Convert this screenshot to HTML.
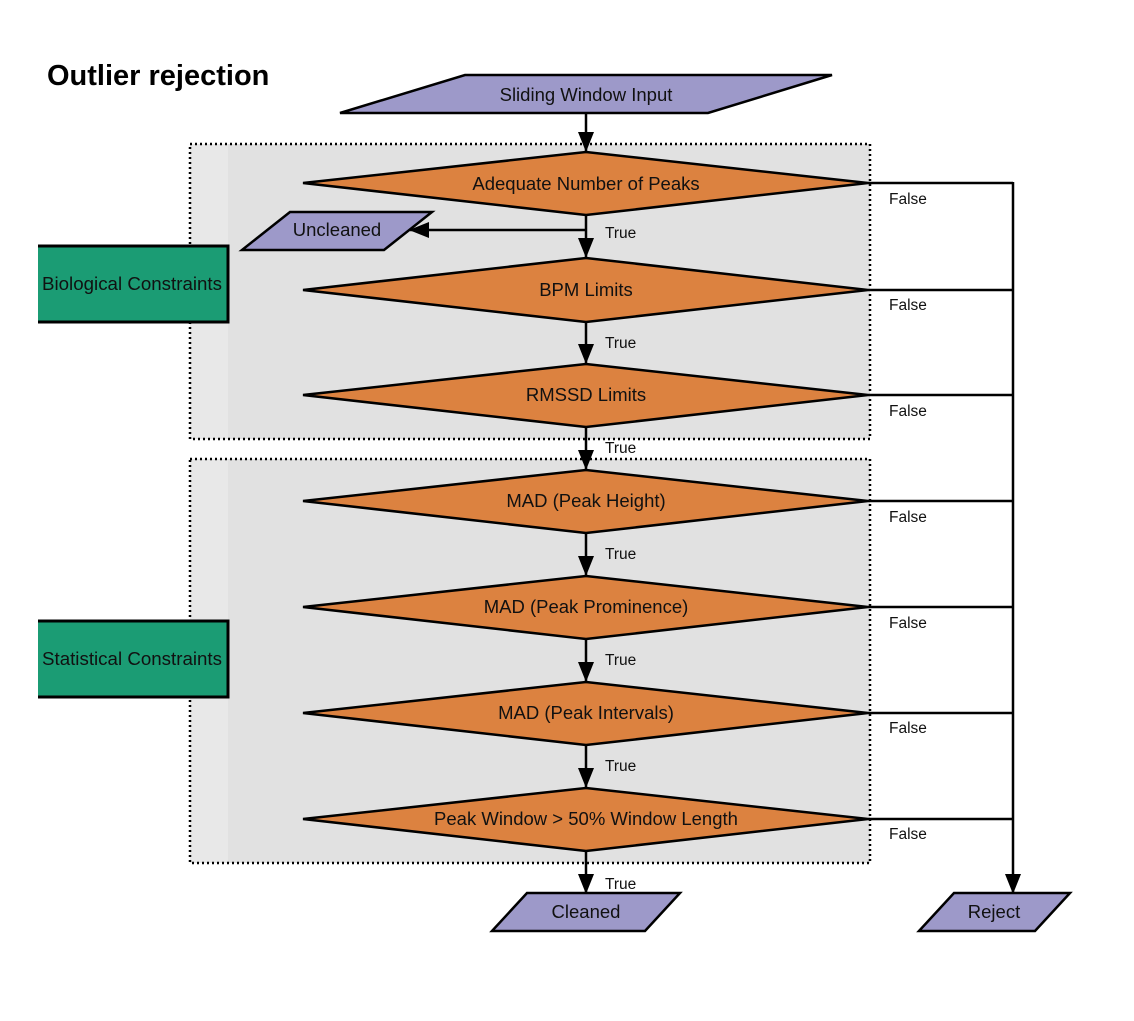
<!DOCTYPE html>
<html><head><meta charset="utf-8"><style>
html,body{margin:0;padding:0;background:#fff;}
svg{display:block;font-family:"Liberation Sans",Arial,sans-serif;}
</style></head><body>
<svg width="1134" height="1021" viewBox="0 0 1134 1021" xmlns="http://www.w3.org/2000/svg">
<defs>
<marker id="ah" markerWidth="20" markerHeight="18" refX="19" refY="9" orient="auto" markerUnits="userSpaceOnUse">
<path d="M0,1 L20,9 L0,17 Z" fill="#000"/>
</marker>
</defs>
<text x="47" y="85" font-size="29" font-weight="bold" fill="#000">Outlier rejection</text>

<rect x="190" y="144" width="680" height="295" fill="#e1e1e1"/>
<rect x="190" y="144" width="38" height="295" fill="#e8e8e8"/>
<rect x="190" y="144" width="680" height="295" fill="none" stroke="#000" stroke-width="2.5" stroke-dasharray="2,3"/>
<rect x="190" y="459" width="680" height="404" fill="#e1e1e1"/>
<rect x="190" y="459" width="38" height="404" fill="#e8e8e8"/>
<rect x="190" y="459" width="680" height="404" fill="none" stroke="#000" stroke-width="2.5" stroke-dasharray="2,3"/>

<rect x="38" y="246" width="190" height="76" fill="#1b9c74"/>
<path d="M38,246 H228 V322 H38" fill="none" stroke="#000" stroke-width="3"/>
<text x="132" y="290" font-size="18.5" text-anchor="middle" fill="#111" textLength="180" lengthAdjust="spacingAndGlyphs">Biological Constraints</text>
<rect x="38" y="621" width="190" height="76" fill="#1b9c74"/>
<path d="M38,621 H228 V697 H38" fill="none" stroke="#000" stroke-width="3"/>
<text x="132" y="665" font-size="18.5" text-anchor="middle" fill="#111" textLength="180" lengthAdjust="spacingAndGlyphs">Statistical Constraints</text>

<g stroke="#000" stroke-width="2.5" fill="none">
<line x1="586" y1="113" x2="586" y2="151" marker-end="url(#ah)"/>
<line x1="586" y1="215" x2="586" y2="257" marker-end="url(#ah)"/>
<line x1="586" y1="230" x2="410" y2="230" marker-end="url(#ah)"/>
<line x1="586" y1="322" x2="586" y2="363" marker-end="url(#ah)"/>
<line x1="586" y1="427" x2="586" y2="469" marker-end="url(#ah)"/>
<line x1="586" y1="533" x2="586" y2="575" marker-end="url(#ah)"/>
<line x1="586" y1="639" x2="586" y2="681" marker-end="url(#ah)"/>
<line x1="586" y1="745" x2="586" y2="787" marker-end="url(#ah)"/>
<line x1="586" y1="851" x2="586" y2="893" marker-end="url(#ah)"/>
<line x1="868" y1="183" x2="1013" y2="183"/>
<line x1="868" y1="290" x2="1013" y2="290"/>
<line x1="868" y1="395" x2="1013" y2="395"/>
<line x1="868" y1="501" x2="1013" y2="501"/>
<line x1="868" y1="607" x2="1013" y2="607"/>
<line x1="868" y1="713" x2="1013" y2="713"/>
<line x1="868" y1="819" x2="1013" y2="819"/>
<line x1="1013" y1="182" x2="1013" y2="893" marker-end="url(#ah)"/>
</g>

<g stroke="#000" stroke-width="2.5" fill="#9d99c9">
<polygon points="340,113 465,75 832,75 708,113"/>
<polygon points="242,250 290,212 432,212 384,250"/>
<polygon points="492,931 527,893 680,893 645,931"/>
<polygon points="919,931 954,893 1070,893 1035,931"/>
</g>
<g font-size="18.5" text-anchor="middle" fill="#111">
<text x="586" y="101">Sliding Window Input</text>
<text x="337" y="236">Uncleaned</text>
<text x="586" y="918">Cleaned</text>
<text x="994" y="918">Reject</text>
</g>

<g stroke="#000" stroke-width="2.5" fill="#dc8240">
<polygon points="303,183 586,152 868,183 586,215"/>
<polygon points="303,290 586,258 868,290 586,322"/>
<polygon points="303,395 586,364 868,395 586,427"/>
<polygon points="303,501 586,470 868,501 586,533"/>
<polygon points="303,607 586,576 868,607 586,639"/>
<polygon points="303,713 586,682 868,713 586,745"/>
<polygon points="303,819 586,788 868,819 586,851"/>
</g>
<g font-size="18.5" text-anchor="middle" fill="#111">
<text x="586" y="190">Adequate Number of Peaks</text>
<text x="586" y="296">BPM Limits</text>
<text x="586" y="401">RMSSD Limits</text>
<text x="586" y="507">MAD (Peak Height)</text>
<text x="586" y="613">MAD (Peak Prominence)</text>
<text x="586" y="719">MAD (Peak Intervals)</text>
<text x="586" y="825">Peak Window &gt; 50% Window Length</text>
</g>

<g font-size="15.5" fill="#111">
<text x="605" y="238">True</text>
<text x="605" y="348">True</text>
<text x="605" y="453">True</text>
<text x="605" y="559">True</text>
<text x="605" y="665">True</text>
<text x="605" y="771">True</text>
<text x="605" y="889">True</text>
<text x="889" y="204">False</text>
<text x="889" y="310">False</text>
<text x="889" y="416">False</text>
<text x="889" y="522">False</text>
<text x="889" y="628">False</text>
<text x="889" y="733">False</text>
<text x="889" y="839">False</text>
</g>
</svg>
</body></html>
